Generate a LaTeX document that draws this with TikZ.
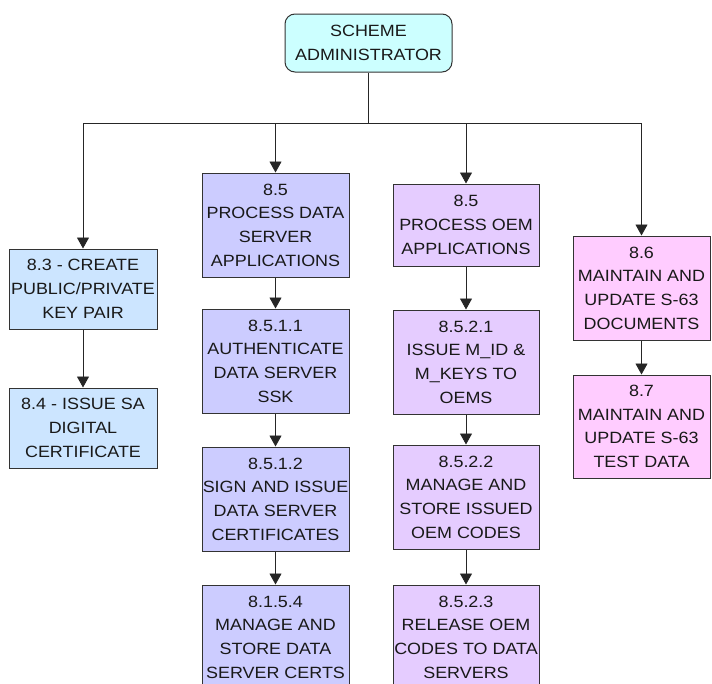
\documentclass[tikz,border=0pt]{standalone}
\usepackage{fontspec}
\setmainfont[FakeStretch=1.1]{Liberation Sans}
\usetikzlibrary{arrows.meta}
\definecolor{cTop}{HTML}{CCFFFF}
\definecolor{cOne}{HTML}{CCE5FF}
\definecolor{cTwo}{HTML}{CCCCFF}
\definecolor{cThree}{HTML}{E5CCFF}
\definecolor{cFour}{HTML}{FFCCFF}
\definecolor{cEdge}{HTML}{333333}
\tikzset{
  box/.style={draw=cEdge, line width=1pt, inner sep=0pt, align=center,
    font=\fontsize{16.3}{23.7}\selectfont, text=black!90},
  arr/.style={-{Triangle[width=12pt,length=11pt]}, line width=0.9pt, draw=black!85},
  ln/.style={line width=0.9pt, draw=black!85}
}
\begin{document}
\begin{tikzpicture}[x=1pt,y=-1pt]
\clip (0,0) rectangle (712,683);
\fill[white] (0,0) rectangle (712,683);
% top
\node[box, fill=cTop, rounded corners=10pt, minimum width=167pt, minimum height=58pt] (sa) at (368.5,43) {SCHEME\\ADMINISTRATOR};
% column 1
\node[box, fill=cOne, minimum width=148pt, minimum height=80pt] (b83) at (83,289) {8.3 - CREATE\\PUBLIC/PRIVATE\\KEY PAIR};
\node[box, fill=cOne, minimum width=148pt, minimum height=80pt] (b84) at (83,428) {8.4 - ISSUE SA\\DIGITAL\\CERTIFICATE};
% column 2
\node[box, fill=cTwo, minimum width=147pt, minimum height=104pt] (b85a) at (275.5,225) {8.5\\PROCESS DATA\\SERVER\\APPLICATIONS};
\node[box, fill=cTwo, minimum width=147pt, minimum height=104pt] (b8511) at (275.5,361) {8.5.1.1\\AUTHENTICATE\\DATA SERVER\\SSK};
\node[box, fill=cTwo, minimum width=147pt, minimum height=104pt] (b8512) at (275.5,499) {8.5.1.2\\SIGN AND ISSUE\\DATA SERVER\\CERTIFICATES};
\node[box, fill=cTwo, minimum width=147pt, minimum height=104pt] (b8154) at (275.5,637) {8.1.5.4\\MANAGE AND\\STORE DATA\\SERVER CERTS};
% column 3
\node[box, fill=cThree, minimum width=146pt, minimum height=82pt] (b85b) at (466,225) {8.5\\PROCESS OEM\\APPLICATIONS};
\node[box, fill=cThree, minimum width=146pt, minimum height=104pt] (b8521) at (466,362) {8.5.2.1\\ISSUE M\_ID \&\\M\_KEYS TO\\OEMS};
\node[box, fill=cThree, minimum width=146pt, minimum height=104pt] (b8522) at (466,497) {8.5.2.2\\MANAGE AND\\STORE ISSUED\\OEM CODES};
\node[box, fill=cThree, minimum width=146pt, minimum height=104pt] (b8523) at (466,637) {8.5.2.3\\RELEASE OEM\\CODES TO DATA\\SERVERS};
% column 4
\node[box, fill=cFour, minimum width=137pt, minimum height=104pt] (b86) at (641.5,288) {8.6\\MAINTAIN AND\\UPDATE S-63\\DOCUMENTS};
\node[box, fill=cFour, minimum width=137pt, minimum height=103pt] (b87) at (641.5,426.5) {8.7\\MAINTAIN AND\\UPDATE S-63\\TEST DATA};
% bus
\coordinate (j) at (368.5,123);
\draw[ln] (sa.south) -- (j);
\draw[ln] (b83.north |- j) -- (b86.north |- j);
\draw[arr] (b83.north |- j) -- (b83.north);
\draw[arr] (b85a.north |- j) -- (b85a.north);
\draw[arr] (b85b.north |- j) -- (b85b.north);
\draw[arr] (b86.north |- j) -- (b86.north);
% chains
\draw[arr] (b83) -- (b84);
\draw[arr] (b85a) -- (b8511);
\draw[arr] (b8511) -- (b8512);
\draw[arr] (b8512) -- (b8154);
\draw[arr] (b85b) -- (b8521);
\draw[arr] (b8521) -- (b8522);
\draw[arr] (b8522) -- (b8523);
\draw[arr] (b86) -- (b87);
\end{tikzpicture}
\end{document}
